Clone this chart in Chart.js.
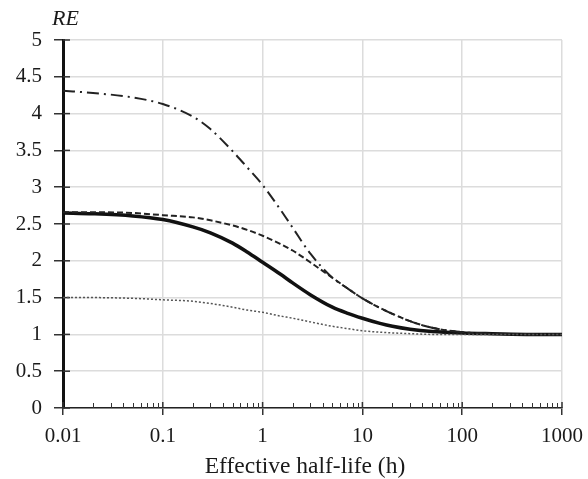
<!DOCTYPE html>
<html><head><meta charset="utf-8">
<script src="https://cdn.jsdelivr.net/npm/chart.js@4/dist/chart.umd.min.js"></script>
<style>html,body{margin:0;padding:0;background:#fff}#wrap{width:588px;height:479px}</style>
</head><body><div id="wrap"><canvas id="c" width="588" height="479"></canvas></div>
<script>
// Effective half-life (h) — shared x grid for all series
const halfLife   = [0.01, 0.02, 0.05, 0.1, 0.2, 0.3, 0.5, 0.7, 1, 1.5, 2, 3, 5, 7, 10, 15, 20, 30, 50, 100, 200, 500, 1000];
// RE values per curve
const reSolid    = [2.65, 2.64, 2.61, 2.56, 2.46, 2.38, 2.24, 2.12, 1.98, 1.82, 1.70, 1.54, 1.37, 1.29, 1.22, 1.15, 1.11, 1.07, 1.04, 1.02, 1.01, 1.00, 1.00];
const reDashed   = [2.66, 2.66, 2.65, 2.62, 2.59, 2.55, 2.48, 2.42, 2.34, 2.23, 2.14, 1.98, 1.77, 1.63, 1.49, 1.36, 1.28, 1.18, 1.09, 1.03, 1.01, 1.00, 1.00];
const reDashDot  = [4.31, 4.28, 4.22, 4.13, 3.96, 3.79, 3.49, 3.27, 3.03, 2.70, 2.45, 2.10, 1.77, 1.63, 1.49, 1.36, 1.28, 1.18, 1.09, 1.03, 1.01, 1.00, 1.00];
const reDotted   = [1.50, 1.50, 1.49, 1.47, 1.45, 1.42, 1.37, 1.33, 1.30, 1.25, 1.22, 1.17, 1.11, 1.08, 1.05, 1.03, 1.02, 1.01, 1.00, 1.00, 1.00, 1.00, 1.00];
// axes
const xTickValues = [0.01, 0.1, 1, 10, 100, 1000];
const yMin = 0, yMax = 5, yStep = 0.5;
const xTitle = 'Effective half-life (h)';
const yTitle = 'RE';

const FONT = "'Liberation Serif', 'Times New Roman', serif";
const TXT = '#1a1a1a';

function pts(arr) { return halfLife.map((x, i) => ({ x: x, y: arr[i] })); }

const extraTicks = {
  id: 'extraTicks',
  beforeDatasetsDraw(chart) {
    const ctx = chart.ctx, xs = chart.scales.x, ys = chart.scales.y, ca = chart.chartArea;
    ctx.save();
    ctx.strokeStyle = '#333';
    // minor x ticks (inside)
    ctx.lineWidth = 1;
    for (let i = 0; i < xTickValues.length - 1; i++) {
      for (let k = 2; k <= 9; k++) {
        const px = Math.round(xs.getPixelForValue(xTickValues[i] * k)) + 0.5;
        ctx.beginPath(); ctx.moveTo(px, ca.bottom - 5); ctx.lineTo(px, ca.bottom); ctx.stroke();
      }
    }
    // major x ticks inside part
    ctx.lineWidth = 1.5;
    xTickValues.forEach(v => {
      const px = xs.getPixelForValue(v);
      ctx.beginPath(); ctx.moveTo(px, ca.bottom - 6); ctx.lineTo(px, ca.bottom); ctx.stroke();
    });
    // y ticks inside part
    for (let v = yMin; v <= yMax + 1e-9; v += yStep) {
      const py = ys.getPixelForValue(v);
      ctx.beginPath(); ctx.moveTo(ca.left, py); ctx.lineTo(ca.left + 7, py); ctx.stroke();
    }
    ctx.restore();
  },
  afterDraw(chart) {
    const ctx = chart.ctx, ca = chart.chartArea;
    ctx.save();
    ctx.fillStyle = TXT;
    ctx.textBaseline = 'alphabetic';
    ctx.font = "italic 22px " + FONT;
    ctx.textAlign = 'left';
    ctx.fillText(yTitle, ca.left - 11, 25);
    ctx.font = "23.5px " + FONT;
    ctx.textAlign = 'center';
    ctx.fillText(xTitle, 305, 473);
    ctx.restore();
  }
};

new Chart(document.getElementById('c'), {
  type: 'line',
  data: {
    datasets: [
      { label: 'dotted', data: pts(reDotted), borderColor: '#555', borderWidth: 1.5, borderDash: [2, 2], pointRadius: 0, cubicInterpolationMode: 'monotone' },
      { label: 'dash-dot', data: pts(reDashDot), borderColor: '#222', borderWidth: 2, borderDash: [12, 5, 2, 5], pointRadius: 0, cubicInterpolationMode: 'monotone' },
      { label: 'dashed', data: pts(reDashed), borderColor: '#222', borderWidth: 2, borderDash: [6, 3], pointRadius: 0, cubicInterpolationMode: 'monotone' },
      { label: 'solid', data: pts(reSolid), borderColor: '#111', borderWidth: 3.5, pointRadius: 0, cubicInterpolationMode: 'monotone' }
    ]
  },
  options: {
    responsive: false,
    devicePixelRatio: 1,
    animation: false,
    layout: { padding: { top: 40, right: 26, left: 0, bottom: 0 } },
    plugins: { legend: { display: false }, tooltip: { enabled: false } },
    scales: {
      x: {
        type: 'logarithmic', min: 0.01, max: 1000,
        afterBuildTicks: s => { s.ticks = xTickValues.map(v => ({ value: v, major: true })); },
        afterFit: s => { s.height = 71; s.paddingLeft = 0; s.paddingRight = 0; },
        grid: { color: '#dcdcdc', lineWidth: 1.5, tickColor: '#333', tickLength: 7, tickWidth: 1.5 },
        border: { color: '#222', width: 1.5 },
        ticks: { font: { family: FONT, size: 21 }, color: TXT, padding: 9, maxRotation: 0, autoSkip: false,
                 callback: v => String(v) },
        title: { display: false, text: xTitle }
      },
      y: {
        type: 'linear', min: yMin, max: yMax,
        afterFit: s => { s.width = 63; s.paddingTop = 0; s.paddingBottom = 0; },
        grid: { color: '#dcdcdc', lineWidth: 1.5, tickColor: '#333', tickLength: 9, tickWidth: 1.5 },
        border: { color: '#111', width: 3 },
        ticks: { stepSize: yStep, font: { family: FONT, size: 21 }, color: TXT, padding: 12,
                 callback: v => String(v) }
      }
    }
  },
  plugins: [extraTicks]
});
</script>
</body></html>
